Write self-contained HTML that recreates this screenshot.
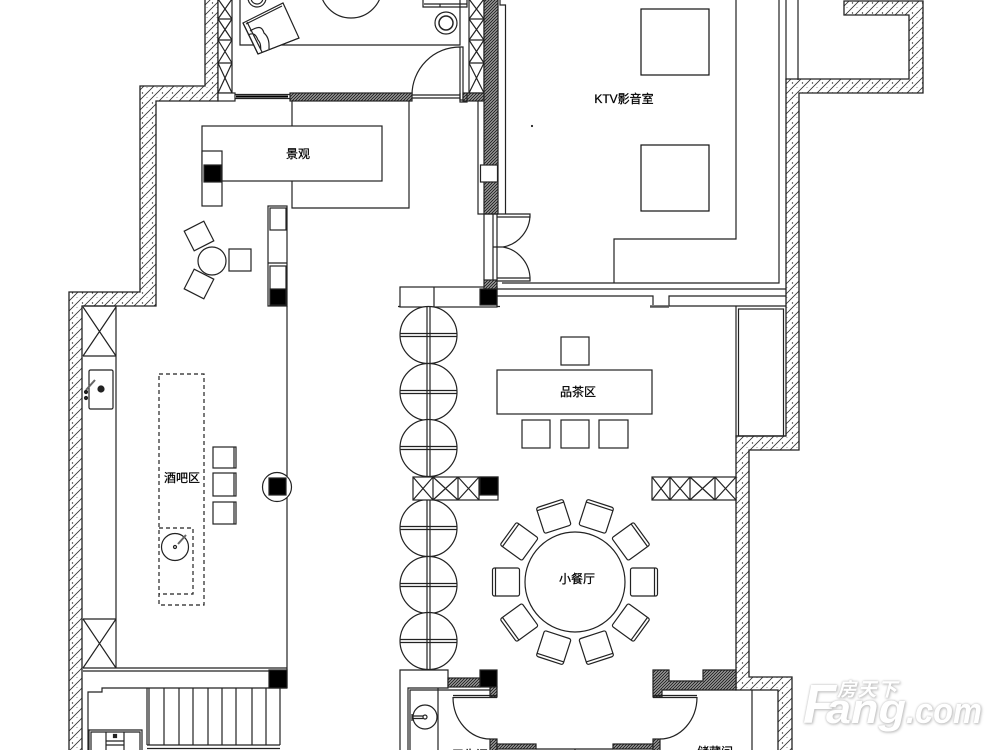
<!DOCTYPE html>
<html><head><meta charset="utf-8"><style>
html,body{margin:0;padding:0;background:#fff}
svg{display:block}
text{font-family:"Liberation Sans","Noto Sans CJK SC",sans-serif;fill:#000;stroke:#000;stroke-width:.25}
.wm{font-family:"Liberation Sans","Noto Sans CJK SC",sans-serif;font-weight:bold;font-style:italic;fill:#fff;stroke:none;filter:drop-shadow(0 0 1px #bbb) drop-shadow(1px 1px 1px #ccc)}
</style></head><body>
<svg width="1000" height="750" viewBox="0 0 1000 750" xmlns="http://www.w3.org/2000/svg">
<defs>
<pattern id="c" patternUnits="userSpaceOnUse" width="10" height="10">
<rect width="10" height="10" fill="#fff"/>
<path d="M-1 11L11 -1M-1 1L1 -1M9 11L11 9" stroke="#333" stroke-width=".8" fill="none"/>
<circle cx="2.5" cy="3" r=".7" fill="#333"/><circle cx="7" cy="7.5" r=".5" fill="#777"/>
</pattern>
<pattern id="d" patternUnits="userSpaceOnUse" width="3" height="3">
<rect width="3" height="3" fill="#aaa"/>
<path d="M-1 4L4 -1M-1 1L1 -1M2 4L4 2" stroke="#222" stroke-width="1" fill="none"/>
</pattern>
<g id="ch"><rect x="-13.5" y="-14" width="27" height="28" rx="2" fill="#fff"/><path d="M10.5 -14V14"/></g>
<g id="st"><circle r="28.5" fill="#fff"/><path d="M-28 -1.5H28M-28 1.5H28"/></g>
</defs>
<rect width="1000" height="750" fill="#fff"/>
<g fill="none" stroke="#222" stroke-width="1.2">
<!-- concrete walls -->
<path fill="url(#c)" stroke-width="1.3" d="M205 -1V86H140V292H69V751H82V306H156V101H218V-1Z"/>
<path fill="url(#c)" stroke-width="1.3" d="M844 1H923V93H799V450H749V677H792V751H778V690H736V436H786V79H909V15H844Z"/>
<!-- top room -->
<rect x="218" y="-1" width="14" height="94" fill="#fff"/>
<path d="M218 19H232M218 40H232M218 63H232M218 -1L232 19M232 -1L218 19M218 19L232 40M232 19L218 40M218 40L232 63M232 40L218 63M218 63L232 93M232 63L218 93"/>
<rect x="469" y="-1" width="15" height="94" fill="#fff"/>
<path d="M469 19H484M469 40H484M469 63H484M469 -1L484 19M484 -1L469 19M469 19L484 40M484 19L469 40M469 40L484 63M484 40L469 63M469 63L484 93M484 63L469 93"/>
<path d="M240 -1V45H460V-1"/>
<circle cx="351" cy="-13" r="31"/>
<circle cx="257" cy="-2" r="9"/><circle cx="257" cy="-2" r="6"/>
<circle cx="446" cy="23" r="11"/><circle cx="446" cy="23" r="7" stroke-width="1.5"/>
<path d="M423 -1V7H467V-1M424 4H467M440 4V7"/>
<path fill="#fff" d="M243 23L283 3L299 38L258 54Z"/>
<path d="M246 24L282 6M243 23L258 54M247 22L262 52M258 54L299 38M250 31C258 26 262 26 264 33C270 38 269 46 269 49M248 35C254 32 256 35 258 40C262 44 260 48 261 50"/>
<!-- door & top wall -->
<path d="M412 95A48 48 0 0 1 460 47H463V100H460V47M412 95H460M412 98H460"/>
<rect x="290" y="93" width="122" height="8" fill="url(#d)"/>
<rect x="218" y="93" width="17" height="8" fill="#fff"/>
<path d="M235 94.500H290M235 98.500H290"/>
<path d="M236 96.500H288" stroke="#000" stroke-width="2"/>
<rect x="463" y="93" width="21" height="8" fill="url(#d)"/>
<path d="M460 93V102H467V93"/>
<!-- right dark wall -->
<rect x="484" y="-1" width="14" height="215" fill="url(#d)"/>
<rect x="480.500" y="165" width="17" height="17" fill="#fff"/>
<path d="M478 101V214H498M484 214V280M493 214V280M497 214V280"/>
<path d="M498 -1H500V5H505.500V214"/>
<!-- doors -->
<path d="M497 214H530V217H497M530 214A33 33 0 0 1 503 247M493 247H503M530 281A33 33 0 0 0 503 247M497 278H530V281H497"/>
<!-- landscape -->
<path d="M292 101V126M292 181V208H409V101"/>
<rect x="202" y="126" width="180" height="55"/>
<rect x="202" y="151" width="20" height="55" fill="#fff"/>
<rect x="204" y="165" width="17" height="17" fill="#000"/>
<!-- column -->
<rect x="268" y="206" width="19" height="100" fill="#fff"/>
<rect x="270" y="208" width="16" height="22"/>
<path d="M268 263H287"/>
<rect x="270" y="266" width="16" height="39"/>
<rect x="270" y="289" width="16" height="16" fill="#000"/>
<path d="M287 306V688"/>
<!-- lounge table -->
<circle cx="212" cy="261" r="14"/>
<rect x="229" y="249" width="22" height="22"/>
<rect x="-11" y="-11" width="22" height="22" transform="translate(199 236) rotate(-27)"/>
<rect x="-11" y="-11" width="22" height="22" transform="translate(199 284) rotate(27)"/>
<!-- bar cabinets -->
<path d="M82.500 306H116V668M116 356H83M83 307L116 356M116 307L83 356M83 619H116M83 619L116 668M116 619L83 668"/>
<rect x="89" y="370" width="24" height="39" rx="1.500"/>
<circle cx="101" cy="389" r="3" fill="#222"/>
<path d="M86 390L95 380" stroke-width="2" stroke="#666"/>
<circle cx="86" cy="392" r="1.500" fill="#222"/><circle cx="86" cy="398" r="1.500" fill="#222"/>
<rect x="159" y="374" width="45" height="231" stroke-dasharray="4 3"/>
<path d="M159 528H193V594H159" stroke-dasharray="4 3"/>
<circle cx="175" cy="547" r="13.500"/><circle cx="175" cy="547" r="1.500"/>
<path d="M178 544L186 535" stroke-width="2" stroke="#666"/>
<rect x="213" y="447" width="23" height="21"/><rect x="213" y="473" width="23" height="23"/><rect x="213" y="502" width="23" height="22"/>
<path d="M234 447V468M234 473V496M234 502V524"/>
<circle cx="277" cy="487" r="14.500" fill="#fff"/>
<rect x="269" y="478" width="17" height="17" fill="#000"/>
<!-- bottom left -->
<path d="M83 668H287M83 671H269"/>
<rect x="269" y="670" width="18" height="18" fill="#000"/>
<path d="M287 688H102V692H88V751"/>
<path d="M147 688V745M149 688V745M164 688V745M179 688V745M193 688V745M208 688V745M222 688V745M236 688V745M252 688V745M266 688V745M280 688V745M147 745H280M147 748.500H280"/>
<path d="M89 751V730H142V751M91 751V732H140V751M106 732V751M124 732V751M106 741H124M106 745H124"/>
<rect x="113.500" y="734.500" width="3" height="3" fill="#222"/>
<!-- KTV -->
<rect x="641" y="9" width="68" height="66" stroke="#111"/>
<rect x="641" y="145" width="68" height="66" stroke="#111"/>
<path d="M502 283H779V-1M736 -1V239H614V283M786 -1V80M798 -1V80"/>
<path d="M497 289H786M497 296H653V305M669 306V296H786M669 306H786M398 306.500H500"/>
<path d="M650 306.500H669" stroke-width="2.500" stroke="#555"/>
<circle cx="532" cy="126" r=".5" fill="#333"/>
<!-- entry bar -->
<rect x="400" y="287" width="97" height="20" fill="#fff"/>
<path d="M434 287V307"/>
<rect x="484" y="280" width="13" height="9" fill="url(#d)"/>
<rect x="480" y="289" width="17" height="16" fill="#000"/>
<!-- right storage -->
<path d="M736 306V436H786"/>
<rect x="738.500" y="309" width="45" height="127"/>
<!-- round screens -->
<use href="#st" x="428.500" y="335"/><use href="#st" x="428.500" y="392"/><use href="#st" x="428.500" y="448"/>
<use href="#st" x="428.500" y="528"/><use href="#st" x="428.500" y="585"/><use href="#st" x="428.500" y="641"/>
<path d="M427 307V670M430 307V670"/>
<!-- cabinets -->
<rect x="413" y="477" width="85" height="23" fill="#fff"/>
<path d="M433 477V500M458 477V500M479 477V500M413 477L433 500M433 477L413 500M433 477L458 500M458 477L433 500M458 477L479 500M479 477L458 500"/>
<rect x="480" y="477" width="18" height="18" fill="#000"/>
<rect x="652" y="477" width="84" height="23" fill="#fff"/>
<path d="M670 477V500M690 477V500M715 477V500M652 477L670 500M670 477L652 500M670 477L690 500M690 477L670 500M690 477L715 500M715 477L690 500M715 477L736 500M736 477L715 500"/>
<!-- tea area -->
<rect x="497" y="370" width="155" height="44"/>
<rect x="561" y="337" width="28" height="28"/>
<rect x="522" y="420" width="28" height="28"/><rect x="561" y="420" width="28" height="28"/><rect x="599" y="420" width="29" height="28"/>
<!-- dining -->
<circle cx="575" cy="582" r="50"/>
<use href="#ch" transform="translate(575 582) rotate(0) translate(69 0)"/>
<use href="#ch" transform="translate(575 582) rotate(36) translate(69 0)"/>
<use href="#ch" transform="translate(575 582) rotate(72) translate(69 0)"/>
<use href="#ch" transform="translate(575 582) rotate(108) translate(69 0)"/>
<use href="#ch" transform="translate(575 582) rotate(144) translate(69 0)"/>
<use href="#ch" transform="translate(575 582) rotate(180) translate(69 0)"/>
<use href="#ch" transform="translate(575 582) rotate(216) translate(69 0)"/>
<use href="#ch" transform="translate(575 582) rotate(252) translate(69 0)"/>
<use href="#ch" transform="translate(575 582) rotate(288) translate(69 0)"/>
<use href="#ch" transform="translate(575 582) rotate(324) translate(69 0)"/>
<!-- bottom rooms -->
<path d="M400 751V670H448V688H408V751M410 751V690H492M438 688V751"/>
<circle cx="425" cy="717" r="12"/><circle cx="425" cy="717" r="2"/>
<path d="M412 716H423M412 718.500H423M412 714V721"/>
<rect x="448" y="678" width="32" height="9" fill="url(#d)"/>
<rect x="480" y="670" width="17" height="17" fill="#000"/>
<rect x="490" y="687" width="7" height="10" fill="url(#d)"/>
<path d="M453 695.500H497M453 697.500H497M453 697A37 42 0 0 0 490 739"/>
<path fill="url(#d)" d="M653 670H669V681H703V670H736V690H662V697H653Z"/>
<path d="M653 695.500H697M653 697.500H697M697 697A37 42 0 0 1 660 739"/>
<rect x="490" y="739" width="7" height="12" fill="url(#d)"/>
<rect x="497" y="744" width="39" height="5" fill="url(#d)"/>
<rect x="613" y="744" width="40" height="5" fill="url(#d)"/>
<rect x="653" y="739" width="7" height="12" fill="url(#d)"/>
<path d="M536 749H613M575 749V751M752 690V751"/>
</g>
<!-- labels -->
<g font-size="12" text-anchor="middle">
<text x="298" y="158">景观</text>
<text x="624" y="103">KTV影音室</text>
<text x="182" y="482">酒吧区</text>
<text x="578" y="396">品茶区</text>
<text x="577" y="583">小餐厅</text>
<text x="715" y="756">储藏间</text>
<text x="470" y="759">卫生间</text>
</g>
<!-- watermark -->
<g>
<text x="803" y="723" font-size="55" textLength="33" lengthAdjust="spacingAndGlyphs" class="wm">F</text>
<text x="826" y="723" font-size="42" textLength="80" lengthAdjust="spacingAndGlyphs" class="wm">ang</text>
<text x="906" y="723" font-size="36" textLength="76" lengthAdjust="spacingAndGlyphs" class="wm">.com</text>
<text x="837" y="696" font-size="19" textLength="60" class="wm">房天下</text>
</g>
</svg>
</body></html>
